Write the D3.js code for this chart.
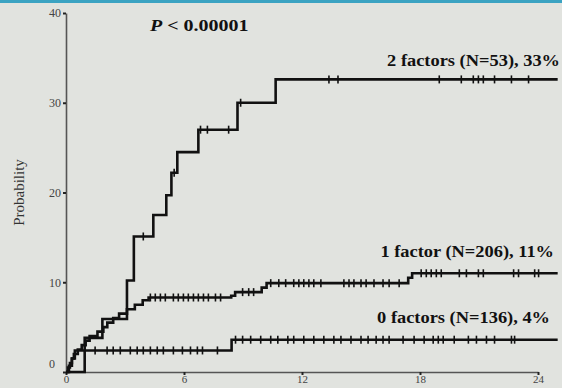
<!DOCTYPE html>
<html>
<head>
<meta charset="utf-8">
<script src="https://cdn.jsdelivr.net/npm/d3@7"></script>
<style>
  html, body { margin: 0; padding: 0; background: #e1e3df; }
  svg { display: block; }
</style>
</head>
<body>
<svg id="chart" width="562" height="388"></svg>
<script>
// Cumulative probability (%) by months of follow-up, grouped by number of risk factors.
const xTicks = [0, 6, 12, 18, 24];
const yTicks = [0, 10, 20, 30, 40];
const followUpEnd = 25;

// Step curves: event times (months) and cumulative probability after each step
const twoFactorTimes  = [0, 0.95, 1.85, 3.1, 3.45, 4.44, 5.10, 5.36, 5.66, 6.73, 8.72, 10.66];
const twoFactorValues = [0, 3.8, 5.9, 10.2, 15.1, 17.5, 19.7, 22.2, 24.5, 27.0, 30.0, 32.6];
const twoFactorCensored = [3.93, 5.5, 6.84, 7.19, 8.27, 8.88, 13.37, 13.83, 18.98, 20.10, 20.71,
  20.97, 21.22, 21.79, 22.65, 23.52];

const oneFactorTimes  = [0, 0.1, 0.2, 0.3, 0.4, 0.6, 0.8, 1.0, 1.2, 1.6, 1.9, 2.1, 2.4, 2.7,
  3.1, 3.5, 3.9, 4.2, 8.4, 8.6, 9.95, 10.2, 17.4, 17.6];
const oneFactorValues = [0, 0.5, 1.0, 1.5, 2.0, 2.5, 3.0, 3.5, 4.0, 4.5, 5.0, 5.5, 6.0, 6.5,
  7.0, 7.5, 8.0, 8.3, 8.5, 8.9, 9.4, 9.9, 10.5, 11.0];
const oneFactorCensored = [4.29, 4.54, 4.80, 5.05, 5.46, 5.71, 5.97, 6.22, 6.48, 6.73, 6.99, 7.24,
  7.60, 7.86, 8.98, 9.29, 9.54, 10.41, 10.82, 11.17, 11.58, 11.84, 12.09, 12.35, 12.60, 12.96,
  14.13, 14.39, 14.64, 15.0, 15.26, 15.66, 16.12, 16.43, 16.94, 18.06, 18.32, 18.57, 18.83,
  19.08, 20.0, 20.36, 20.97, 21.22, 22.76, 23.01, 23.83, 24.03];

const zeroFactorTimes  = [0, 0.15, 0.3, 0.45, 8.42];
const zeroFactorValues = [0, 0.7, 1.5, 2.4, 3.6];
const zeroFactorCensored = [1.48, 2.09, 2.40, 2.76, 3.27, 3.62, 3.93, 4.29, 4.64, 4.95, 5.46,
  5.92, 6.33, 6.68, 6.94, 7.70, 8.62, 8.98, 9.39, 9.90, 10.41, 10.77, 11.28, 11.58, 12.09,
  12.60, 13.11, 13.62, 13.98, 14.49, 15.0, 15.36, 15.77, 16.12, 16.43, 17.14, 17.70, 18.21,
  18.67, 18.93, 19.18, 19.74, 20.46, 20.87, 21.38, 21.79, 22.65, 22.81];

const groupLabels = ["2 factors (N=53), 33%", "1 factor (N=206), 11%", "0 factors (N=136), 4%"];
const pLabel = ["P", " < 0.00001"];
const yTitle = "Probability";

const svg = d3.select("#chart");
const serif = "'Liberation Serif', 'DejaVu Serif', serif";

// top accent strip
svg.append("rect").attr("x", 0).attr("y", 0).attr("width", 562).attr("height", 3)
  .attr("fill", "#3ba3c2");

const x = d3.scaleLinear().domain([0, 24]).range([66, 538]);
const y = d3.scaleLinear().domain([0, 40]).range([372, 13]);

// axes
const xAxis = svg.append("g").attr("transform", `translate(0,${y(0)})`)
  .call(d3.axisBottom(x).tickValues(xTicks).tickSize(3).tickPadding(1).tickSizeOuter(0));
const yAxis = svg.append("g").attr("transform", `translate(${x(0)},0)`)
  .call(d3.axisLeft(y).tickValues(yTicks).tickSize(3).tickPadding(2).tickSizeOuter(0));

[xAxis, yAxis].forEach(g => {
  g.select(".domain").attr("stroke", "#555").attr("stroke-width", 1.6);
  g.selectAll(".tick line").attr("stroke", "#222").attr("stroke-width", 2);
  g.selectAll(".tick text").attr("fill", "#444").style("font-family", serif)
    .style("font-size", "12px");
});
xAxis.selectAll(".tick text").style("font-size", "11px").attr("dy", "0.62em");
// the zero label sits a little above and left of the origin
yAxis.selectAll(".tick").filter(d => d === 0).select("text")
  .attr("dy", "-0.4em").attr("x", -11);

svg.append("text")
  .attr("transform", `translate(24,${y(20)}) rotate(-90)`)
  .attr("text-anchor", "middle")
  .style("font-family", serif).style("font-size", "15px").attr("fill", "#333")
  .text(yTitle);

// bold annotation text, slightly widened
function boldLabel(px, py, anchor, sx) {
  return svg.append("g").attr("transform", `translate(${px},${py}) scale(${sx},1)`)
    .append("text").attr("text-anchor", anchor)
    .style("font-family", serif).style("font-size", "16px").style("font-weight", "bold")
    .attr("fill", "#111");
}

const pText = boldLabel(150, 31, "start", 1.25);
pText.append("tspan").style("font-style", "italic").text(pLabel[0]);
pText.append("tspan").text(pLabel[1]);

// survival-type step curves with censor ticks
const curves = [
  { times: twoFactorTimes, values: twoFactorValues, censored: twoFactorCensored },
  { times: oneFactorTimes, values: oneFactorValues, censored: oneFactorCensored },
  { times: zeroFactorTimes, values: zeroFactorValues, censored: zeroFactorCensored }
];

function valueAt(c, t) {
  let v = 0;
  for (let i = 0; i < c.times.length; i++) if (c.times[i] <= t) v = c.values[i];
  return v;
}

const line = d3.line().x(d => x(d[0])).y(d => y(d[1])).curve(d3.curveStepAfter);

curves.forEach(c => {
  const pts = c.times.map((t, i) => [t, c.values[i]]);
  pts.push([followUpEnd, c.values[c.values.length - 1]]);
  svg.append("path").datum(pts).attr("d", line)
    .attr("fill", "none").attr("stroke", "#111").attr("stroke-width", 2.6)
    .attr("stroke-linejoin", "miter");
  svg.append("g").selectAll("line").data(c.censored).join("line")
    .attr("x1", d => x(d)).attr("x2", d => x(d))
    .attr("y1", d => y(valueAt(c, d)) - 4).attr("y2", d => y(valueAt(c, d)) + 4)
    .attr("stroke", "#111").attr("stroke-width", 1.6);
});

// group labels
const labelPos = [[560, 66], [554, 257], [550, 323]];
groupLabels.forEach((txt, i) => {
  boldLabel(labelPos[i][0], labelPos[i][1], "end", 1.15).text(txt);
});
</script>
</body>
</html>
